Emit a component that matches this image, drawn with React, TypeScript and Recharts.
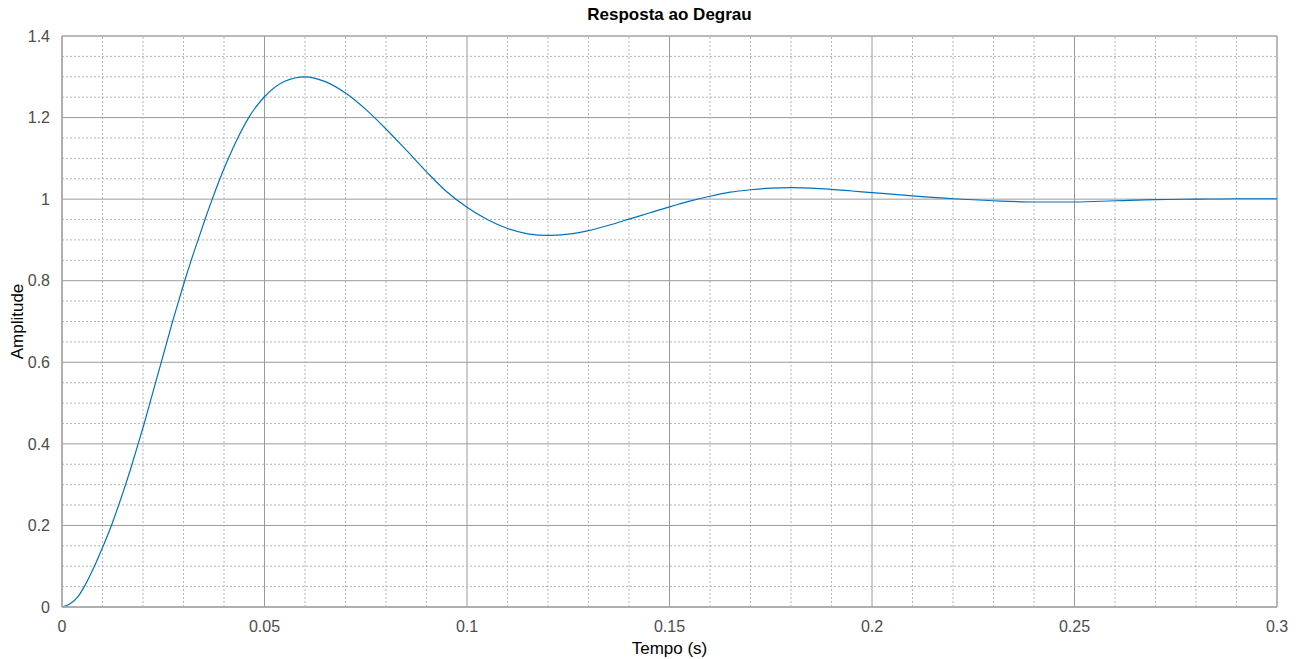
import { LineChart, Line, XAxis, YAxis, CartesianGrid, ReferenceLine } from 'recharts';

// tempo (s) e amplitude
const tempo = [
  0, 0.002, 0.004, 0.0055, 0.008, 0.0102, 0.0122, 0.014, 0.0157, 0.0173, 0.0188, 0.0203,
  0.0217, 0.0231, 0.0245, 0.0259, 0.0273, 0.0288, 0.0303, 0.0319, 0.0336, 0.0353, 0.0371,
  0.039, 0.0411, 0.0434, 0.0461, 0.05, 0.055, 0.06, 0.065, 0.07, 0.075, 0.08, 0.085,
  0.09, 0.095, 0.1, 0.105, 0.11, 0.115, 0.12, 0.125, 0.13, 0.135, 0.14, 0.145,
  0.15, 0.155, 0.16, 0.165, 0.17, 0.175, 0.18, 0.185, 0.19, 0.195, 0.2, 0.21, 0.22,
  0.23, 0.24, 0.25, 0.26, 0.27, 0.28, 0.29, 0.3,
];
const amplitude = [
  0, 0.008, 0.026, 0.05, 0.1, 0.15, 0.2, 0.25, 0.3, 0.35, 0.4, 0.45,
  0.5, 0.55, 0.6, 0.65, 0.7, 0.75, 0.8, 0.85, 0.9, 0.95, 1.0,
  1.05, 1.1, 1.15, 1.2, 1.251, 1.289, 1.3, 1.288, 1.26, 1.22, 1.172, 1.12,
  1.067, 1.018, 0.98, 0.95, 0.928, 0.915, 0.911, 0.914, 0.923, 0.936, 0.951, 0.966,
  0.981, 0.995, 1.007, 1.017, 1.023, 1.027, 1.028, 1.027, 1.024, 1.02, 1.016, 1.008, 1.001,
  0.996, 0.993, 0.993, 0.996, 0.999, 1.0, 1.001, 1.001,
];

const xTicks = [0, 0.05, 0.1, 0.15, 0.2, 0.25, 0.3];
const yTicks = [0, 0.2, 0.4, 0.6, 0.8, 1, 1.2, 1.4];
const xMinor = [
  0.01, 0.02, 0.03, 0.04, 0.06, 0.07, 0.08, 0.09, 0.11, 0.12, 0.13, 0.14,
  0.16, 0.17, 0.18, 0.19, 0.21, 0.22, 0.23, 0.24, 0.26, 0.27, 0.28, 0.29,
];
const yMinor = [
  0.05, 0.1, 0.15, 0.25, 0.3, 0.35, 0.45, 0.5, 0.55, 0.65, 0.7, 0.75,
  0.85, 0.9, 0.95, 1.05, 1.1, 1.15, 1.25, 1.3, 1.35,
];

const rows = tempo.map((t, i) => ({ t, y: amplitude[i] }));

const FONT = 'Liberation Sans, Arial, Helvetica, sans-serif';
const TICK = { fontSize: 16, fill: '#4d4d4d', fontFamily: FONT };
const MAJOR = '#9a9a9a';
const MINOR = '#b5b5b5';
const BOX = '#a6a6a6';

export default function App() {
  return (
    <div style={{ position: 'absolute', left: 0, top: 0, width: 1301, height: 659, background: '#fff' }}>
      <div
        style={{
          position: 'absolute', left: 62, width: 1215, top: 5, textAlign: 'center',
          fontFamily: FONT, fontWeight: 'bold', fontSize: 17, color: '#000',
        }}
      >
        Resposta ao Degrau
      </div>
      <LineChart width={1301} height={659} data={rows} margin={{ top: 36, right: 24, left: 0, bottom: 0 }}>
        <CartesianGrid stroke={MAJOR} horizontal vertical />
        {xMinor.map((v) => (
          <ReferenceLine key={'x' + v} x={v} stroke={MINOR} strokeDasharray="2 2" />
        ))}
        {yMinor.map((v) => (
          <ReferenceLine key={'y' + v} y={v} stroke={MINOR} strokeDasharray="2 2" />
        ))}
        <ReferenceLine y={1.4} stroke={BOX} />
        <ReferenceLine x={0.3} stroke={BOX} />
        <XAxis
          dataKey="t" type="number" domain={[0, 0.3]} ticks={xTicks} interval={0}
          tick={TICK} tickLine={false} axisLine={{ stroke: BOX, strokeWidth: 1.5 }}
          height={52} tickMargin={8}
          label={{ value: 'Tempo (s)', position: 'insideBottom', offset: 5, style: { fontSize: 17, fill: '#000', fontFamily: FONT } }}
        />
        <YAxis
          type="number" domain={[0, 1.4]} ticks={yTicks} interval={0}
          tick={TICK} tickLine={false} axisLine={{ stroke: BOX, strokeWidth: 1.5 }}
          width={62} tickMargin={6}
          label={{ value: 'Amplitude', angle: -90, position: 'insideLeft', offset: 17, style: { fontSize: 17, fill: '#000', fontFamily: FONT, textAnchor: 'middle' } }}
        />
        <Line
          type="monotone" dataKey="y" stroke="#0072BD" strokeWidth={1.2}
          dot={false} activeDot={false} isAnimationActive={false}
        />
      </LineChart>
    </div>
  );
}
